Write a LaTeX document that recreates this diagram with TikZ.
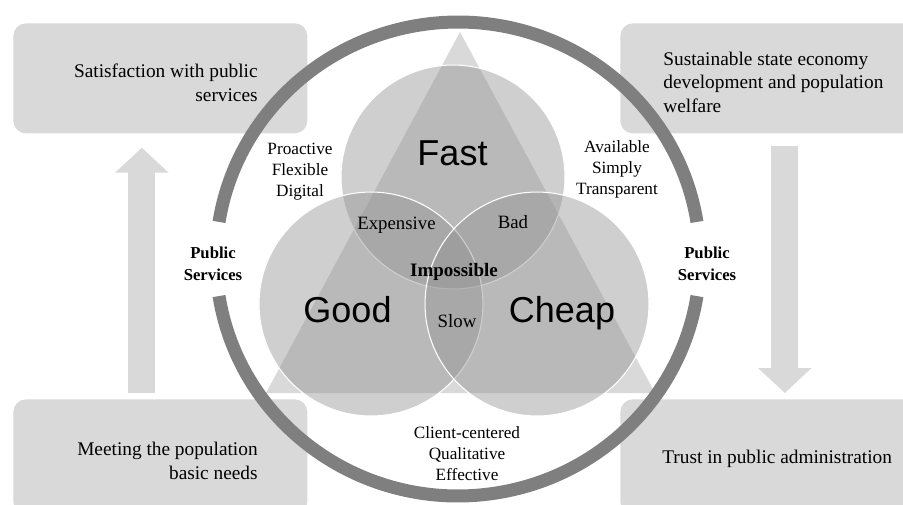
\documentclass[tikz,border=0pt]{standalone}
\usepackage{fontspec}
\setmainfont{Liberation Serif}
\newfontfamily\vennfont{Liberation Sans}
\usetikzlibrary{calc}
\usetikzlibrary{arrows.meta}
\definecolor{boxgray}{HTML}{D9D9D9}
\definecolor{ringgray}{HTML}{7F7F7F}
\definecolor{circgray}{HTML}{949494}
\tikzset{
	infobox/.style={rectangle, fill=boxgray, rounded corners=0.25cm, inner sep=0pt, anchor=north west},
	boxtext/.style={font=\fontsize{11}{13.4}\selectfont, inner sep=0pt},
	venn/.style={circle, fill=circgray, fill opacity=0.45, draw=white, line width=0.6pt, minimum size=4.48cm, inner sep=0pt},
	bigword/.style={font=\vennfont\fontsize{20.5}{24}\selectfont, anchor=base, inner sep=0pt},
	zone/.style={font=\fontsize{10.7}{12}\selectfont, anchor=base, inner sep=0pt},
	quality/.style={font=\fontsize{9.8}{11.9}\selectfont, align=center, inner sep=0pt},
	sector/.style={font=\fontsize{9.5}{12.5}\selectfont\bfseries, align=center, inner sep=0pt},
	ring/.style={draw=ringgray, line width=0.26cm},
	bigarrow/.style={draw=boxgray, line width=0.54cm, -{Triangle[width=1.04cm, length=0.5cm]}}
}

\begin{document}
\begin{tikzpicture}[x=0.02cm, y=-0.02cm]
\clip (0,0) rectangle (903,504);

\node[infobox, minimum width=5.88cm, minimum height=2.2cm] (satbox) at (13,23) {};
\node[infobox, minimum width=6cm, minimum height=2.2cm] (econbox) at (620,23) {};
\node[infobox, minimum width=5.88cm, minimum height=2.3cm] (needbox) at (13,399) {};
\node[infobox, minimum width=6cm, minimum height=2.3cm] (trustbox) at (620,399) {};

\node[boxtext, align=right, anchor=east] (sat) at (258,83) {Satisfaction with public\\services};
\node[boxtext, align=left, anchor=west] (econ) at (663,82) {Sustainable state economy\\development and population\\welfare};
\node[boxtext, align=right, anchor=east] (need) at (258,461) {Meeting the population\\basic needs};
\node[boxtext, anchor=base west] (trust) at (662,463) {Trust in public administration};

\draw[bigarrow] ([xshift=-0.37cm, yshift=0.12cm]needbox.north) -- ([xshift=-0.37cm, yshift=-0.28cm]satbox.south);
\draw[bigarrow] ([xshift=0.29cm, yshift=-0.24cm]econbox.south) -- ([xshift=0.29cm, yshift=0.12cm]trustbox.north);

\coordinate (apex) at (460,32);
\coordinate (tleft) at (266,393);
\coordinate (tright) at (655,393);
\fill[boxgray] (apex) -- (tleft) -- (tright) -- cycle;

\node[venn] (fast) at (453,177) {};
\node[venn] (good) at (371,304) {};
\node[venn] (cheap) at (537,304) {};

\coordinate (hub) at (458,259);
\draw[ring] ($(hub)+(9:4.84cm and 4.74cm)$) arc[start angle=9, end angle=171, x radius=4.84cm, y radius=4.74cm];
\draw[ring] ($(hub)+(189:4.84cm and 4.74cm)$) arc[start angle=189, end angle=351, x radius=4.84cm, y radius=4.74cm];

\node[bigword] (fastlbl) at (452.5,165) {Fast};
\node[bigword] (goodlbl) at (347.5,322) {Good};
\node[bigword] (cheaplbl) at (562,322) {Cheap};

\node[zone] (exp) at (396.5,229) {Expensive};
\node[zone] (bad) at (513,228) {Bad};
\node[zone, font=\fontsize{10.8}{12}\selectfont\bfseries] (imp) at (454,276) {Impossible};
\node[zone] (slow) at (457,327) {Slow};

\node[quality] (agile) at (300,172) {Proactive\\Flexible\\Digital};
\node[quality] (open) at (617,169) {Available\\Simply\\Transparent};
\node[quality] (client) at (467,454) {Client-centered\\Qualitative\\Effective};

\node[sector] (psleft) at (213,264) {Public\\Services};
\node[sector] (psright) at (707,264) {Public\\Services};

\end{tikzpicture}
\end{document}
